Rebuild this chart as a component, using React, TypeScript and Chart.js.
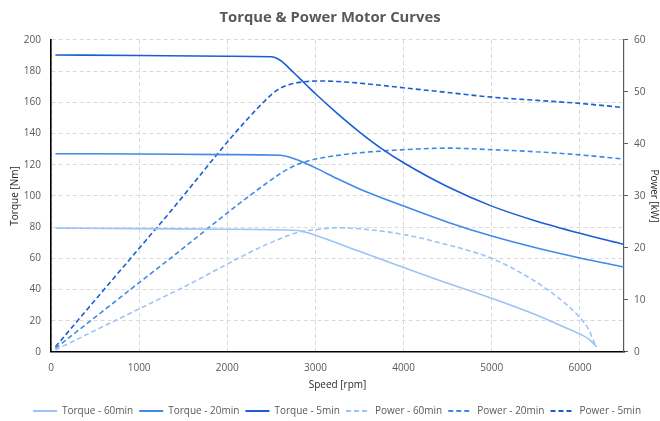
import React, { useEffect, useRef } from "react";
import { Chart, registerables } from "chart.js";

Chart.register(...registerables);

// ---- Data ----
const torque60Speed = [50, 1000, 2000, 2800, 2900, 3000, 3500, 4000, 4500, 5000, 5500, 5800, 6000, 6100, 6190];
const torque60 = [79.4, 79.1, 78.7, 77.9, 76.6, 74.8, 64.5, 54.2, 44.0, 34.4, 23.9, 16.5, 11.5, 8.3, 3.3];

const torque20Speed = [50, 1000, 2000, 2600, 2700, 2800, 3000, 3250, 3500, 4000, 4500, 5000, 5500, 6000, 6500];
const torque20 = [127.1, 126.9, 126.5, 126.1, 125.0, 123.0, 118.0, 111.0, 104.5, 93.5, 83.2, 74.3, 66.8, 60.3, 54.5];

const torque5Speed = [50, 1000, 2000, 2500, 2600, 2700, 2800, 2900, 3000, 3250, 3500, 3750, 4000, 4500, 5000, 5500, 6000, 6500];
const torque5 = [190.4, 190.0, 189.6, 189.2, 187.0, 182.0, 176.5, 171.0, 165.5, 152.8, 141.0, 130.4, 121.3, 105.9, 93.5, 84.0, 76.1, 69.0];

const power60Speed = [50, 1400, 2800, 3000, 3250, 3500, 4000, 4500, 5000, 5500, 5800, 6000, 6100, 6175];
const power60 = [0.4, 11.6, 23.0, 23.5, 23.9, 23.7, 22.6, 20.6, 18.0, 13.5, 9.8, 6.6, 4.3, 1.3];

const power20Speed = [50, 1300, 2600, 2700, 2800, 3000, 3250, 3500, 4000, 4500, 5000, 5500, 6000, 6500];
const power20 = [0.7, 17.3, 34.3, 35.3, 36.1, 37.1, 37.8, 38.3, 38.9, 39.2, 38.9, 38.5, 37.9, 37.1];

const power5Speed = [50, 1250, 2500, 2600, 2700, 2800, 2900, 3000, 3100, 3250, 3500, 4000, 4500, 5000, 5500, 6000, 6500];
const power5 = [1.0, 24.9, 49.5, 50.7, 51.4, 51.8, 52.0, 52.1, 52.1, 52.0, 51.7, 50.8, 49.9, 49.0, 48.4, 47.8, 47.0];

const speedTicks = [0, 1000, 2000, 3000, 4000, 5000, 6000];

const seriesLabels = [
  "Torque - 60min",
  "Torque - 20min",
  "Torque - 5min",
  "Power - 60min",
  "Power - 20min",
  "Power - 5min",
];

const LIGHT = "#9dc3f6";
const MEDIUM = "#3f8ae9";
const DARK = "#1a5ed3";
const FONT = "'Open Sans', 'Noto Sans', sans-serif";
const TEXT = "#595959";
const DASH = [5, 3];
const LINE_W = 1.6;

const toPoints = (xs: number[], ys: number[]) => xs.map((x, i) => ({ x, y: ys[i] }));

const legendShift = {
  id: "legendShift",
  afterLayout(chart: any) {
    const lg = chart.legend;
    if (lg) {
      lg.left += 7;
      lg.right += 7;
    }
  },
};

export default function App() {
  const canvasRef = useRef<HTMLCanvasElement | null>(null);

  useEffect(() => {
    document.body.style.margin = "0";
    const canvas = canvasRef.current;
    if (!canvas) return;

    const line = (label: string, data: any[], color: string, axis: string, dashed: boolean) => ({
      label,
      data,
      borderColor: color,
      backgroundColor: color,
      borderWidth: LINE_W,
      borderDash: dashed ? DASH : [],
      pointRadius: 0,
      fill: false,
      cubicInterpolationMode: "monotone" as const,
      yAxisID: axis,
    });

    const chart = new Chart(canvas, {
      type: "line",
      data: {
        datasets: [
          line(seriesLabels[0], toPoints(torque60Speed, torque60), LIGHT, "y", false),
          line(seriesLabels[1], toPoints(torque20Speed, torque20), MEDIUM, "y", false),
          line(seriesLabels[2], toPoints(torque5Speed, torque5), DARK, "y", false),
          line(seriesLabels[3], toPoints(power60Speed, power60), LIGHT, "y1", true),
          line(seriesLabels[4], toPoints(power20Speed, power20), MEDIUM, "y1", true),
          line(seriesLabels[5], toPoints(power5Speed, power5), DARK, "y1", true),
        ],
      },
      plugins: [legendShift],
      options: {
        animation: false,
        responsive: false,
        maintainAspectRatio: false,
        layout: { padding: { top: 0, left: 0, right: 0, bottom: -5 } },
        plugins: {
          title: {
            display: true,
            text: "Torque & Power Motor Curves",
            color: TEXT,
            font: { family: FONT, size: 14.8, weight: "bold" },
            padding: { top: 9, bottom: 13.2 },
          },
          legend: {
            position: "bottom",
            labels: {
              usePointStyle: true,
              pointStyle: "line",
              pointStyleWidth: 24,
              boxHeight: 10,
              padding: 6,
              color: TEXT,
              font: { family: FONT, size: 10 },
              generateLabels: (c: any) =>
                c.data.datasets.map((ds: any, i: number) => ({
                  text: ds.label,
                  fillStyle: ds.borderColor,
                  strokeStyle: ds.borderColor,
                  lineWidth: 2,
                  lineDash: ds.borderDash,
                  pointStyle: "line",
                  hidden: false,
                  datasetIndex: i,
                  fontColor: TEXT,
                })),
            },
          },
          tooltip: { enabled: false },
        },
        scales: {
          x: {
            type: "linear",
            min: 0,
            max: 6500,
            afterBuildTicks: (scale: any) => {
              scale.ticks = speedTicks.map((v) => ({ value: v }));
            },
            afterFit: (scale: any) => {
              scale.height = 48;
            },
            ticks: {
              autoSkip: false,
              color: TEXT,
              padding: 10,
              maxRotation: 0,
              minRotation: 0,
              font: { family: FONT, size: 10 },
              callback: (v: any) => String(v),
            },
            grid: { color: "#d9d9d9", lineWidth: 1, drawTicks: false },
            border: { display: true, color: "#000000", width: 1.6, dash: [4, 3] },
            title: {
              display: true,
              text: "Speed [rpm]",
              color: "#262626",
              font: { family: FONT, size: 10 },
              padding: { top: 0, bottom: 9 },
            },
          },
          y: {
            type: "linear",
            position: "left",
            min: 0,
            max: 200,
            afterFit: (scale: any) => {
              scale.width = 51;
            },
            ticks: {
              stepSize: 20,
              color: TEXT,
              padding: 10,
              font: { family: FONT, size: 10 },
            },
            grid: { color: "#d9d9d9", lineWidth: 1, drawTicks: false },
            border: { display: true, color: "#000000", width: 1.6, dash: [4, 3] },
            title: {
              display: true,
              text: "Torque [Nm]",
              color: "#262626",
              font: { family: FONT, size: 10 },
              padding: { top: 9, bottom: 0 },
            },
          },
          y1: {
            type: "linear",
            position: "right",
            min: 0,
            max: 60,
            afterFit: (scale: any) => {
              scale.width = 36;
            },
            ticks: {
              stepSize: 10,
              color: TEXT,
              padding: 6,
              font: { family: FONT, size: 10 },
            },
            grid: { drawOnChartArea: false, drawTicks: true, tickLength: 4, color: "#595959" },
            border: { display: true, color: "#595959", width: 1.2 },
            title: {
              display: true,
              text: "Power [kW]",
              color: "#262626",
              font: { family: FONT, size: 10 },
              padding: { top: 0, bottom: 0 },
            },
          },
        },
      },
    });

    return () => chart.destroy();
  }, []);

  return (
    <div style={{ width: 660, height: 421, background: "#ffffff" }}>
      <canvas ref={canvasRef} width={660} height={421} style={{ display: "block" }} />
    </div>
  );
}
